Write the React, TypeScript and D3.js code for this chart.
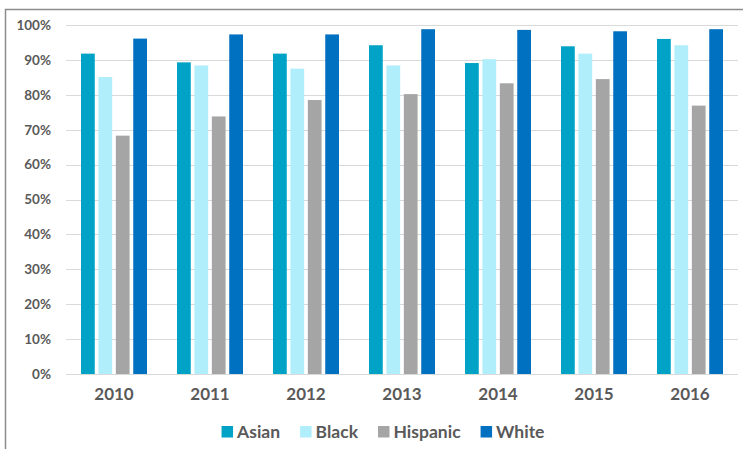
import { useEffect, useRef } from "react";
import * as d3 from "d3";

const years = ["2010", "2011", "2012", "2013", "2014", "2015", "2016"];
const seriesNames = ["Asian", "Black", "Hispanic", "White"];
const asian = [91.8, 89.3, 91.8, 94.2, 89.1, 93.9, 96.0];
const black = [85.1, 88.4, 87.5, 88.4, 90.2, 91.8, 94.2];
const hispanic = [68.3, 73.8, 78.5, 80.2, 83.3, 84.5, 76.9];
const white = [96.1, 97.3, 97.3, 98.8, 98.6, 98.2, 98.8];
const yTicks = [0, 10, 20, 30, 40, 50, 60, 70, 80, 90, 100];
const colors = ["#00A2C5", "#B1EEFB", "#A5A5A5", "#0070C0"];

const W = 743;
const H = 449;

function App() {
  const svgRef = useRef<SVGSVGElement>(null);

  useEffect(() => {
    if (!svgRef.current) return;
    const svg = d3.select(svgRef.current);
    svg.selectAll("*").remove();

    const values = [asian, black, hispanic, white];
    const margin = { top: 25, right: 5, bottom: 75, left: 66 };
    const textColor = "#595959";
    const font = "Lato, 'Open Sans', sans-serif";

    // frame (top and left edges only, as in the source)
    svg
      .append("path")
      .attr("d", `M5.5,${H} V9.5 H${W}`)
      .attr("fill", "none")
      .attr("stroke", "#8c8c8c")
      .attr("stroke-width", 1.5);

    const x0 = d3
      .scaleBand<string>()
      .domain(years)
      .range([margin.left, W - margin.right])
      .paddingInner(0.3125)
      .paddingOuter(0.15625);

    const x1 = d3
      .scaleBand<string>()
      .domain(seriesNames)
      .range([0, x0.bandwidth()])
      .paddingInner(0.21);

    const y = d3
      .scaleLinear()
      .domain([0, 100])
      .range([H - margin.bottom, margin.top]);

    // gridlines
    svg
      .append("g")
      .selectAll("line")
      .data(yTicks)
      .enter()
      .append("line")
      .attr("x1", margin.left)
      .attr("x2", W - margin.right)
      .attr("y1", (d) => Math.round(y(d)) + 0.5)
      .attr("y2", (d) => Math.round(y(d)) + 0.5)
      .attr("stroke", "#D9D9D9")
      .attr("stroke-width", 1);

    // y labels
    svg
      .append("g")
      .selectAll("text")
      .data(yTicks)
      .enter()
      .append("text")
      .attr("x", 51)
      .attr("y", (d) => y(d))
      .attr("dy", "0.36em")
      .attr("text-anchor", "end")
      .attr("font-family", font)
      .attr("font-weight", "bold")
      .attr("font-size", 13.5)
      .attr("fill", textColor)
      .text((d) => `${d}%`);

    // bars
    const groups = svg
      .append("g")
      .selectAll("g")
      .data(years)
      .enter()
      .append("g")
      .attr("transform", (d) => `translate(${x0(d)},0)`);

    groups
      .selectAll("rect")
      .data((_, i) => seriesNames.map((s, j) => ({ s, j, v: values[j][i] })))
      .enter()
      .append("rect")
      .attr("x", (d) => x1(d.s) as number)
      .attr("width", x1.bandwidth())
      .attr("y", (d) => y(d.v))
      .attr("height", (d) => y(0) - y(d.v))
      .attr("fill", (d) => colors[d.j]);

    // year labels
    svg
      .append("g")
      .selectAll("text")
      .data(years)
      .enter()
      .append("text")
      .attr("x", (d) => (x0(d) as number) + x0.bandwidth() / 2)
      .attr("y", 400)
      .attr("text-anchor", "middle")
      .attr("font-family", font)
      .attr("font-weight", "bold")
      .attr("font-size", 17)
      .attr("fill", textColor)
      .text((d) => d);

    // legend
    const legend = svg.append("g");
    const sw = 11.5;
    const items = seriesNames.map((name, i) => {
      const g = legend.append("g");
      g.append("rect")
        .attr("width", sw)
        .attr("height", sw)
        .attr("y", 426)
        .attr("fill", colors[i]);
      const t = g
        .append("text")
        .attr("x", sw + 4)
        .attr("y", 437.5)
        .attr("font-family", font)
        .attr("font-weight", "bold")
        .attr("font-size", 17.5)
        .attr("fill", textColor)
        .text(name);
      const w = sw + 4 + (t.node() as SVGTextElement).getComputedTextLength();
      return { g, w };
    });
    const gap = 20;
    const total = d3.sum(items, (d) => d.w) + gap * (items.length - 1);
    let cx = 383 - total / 2;
    items.forEach((it) => {
      it.g.attr("transform", `translate(${cx},0)`);
      cx += it.w + gap;
    });
  }, []);

  return (
    <svg
      ref={svgRef}
      width={W}
      height={H}
      style={{ position: "absolute", left: 0, top: 0, background: "#fff" }}
    />
  );
}

export default App;
